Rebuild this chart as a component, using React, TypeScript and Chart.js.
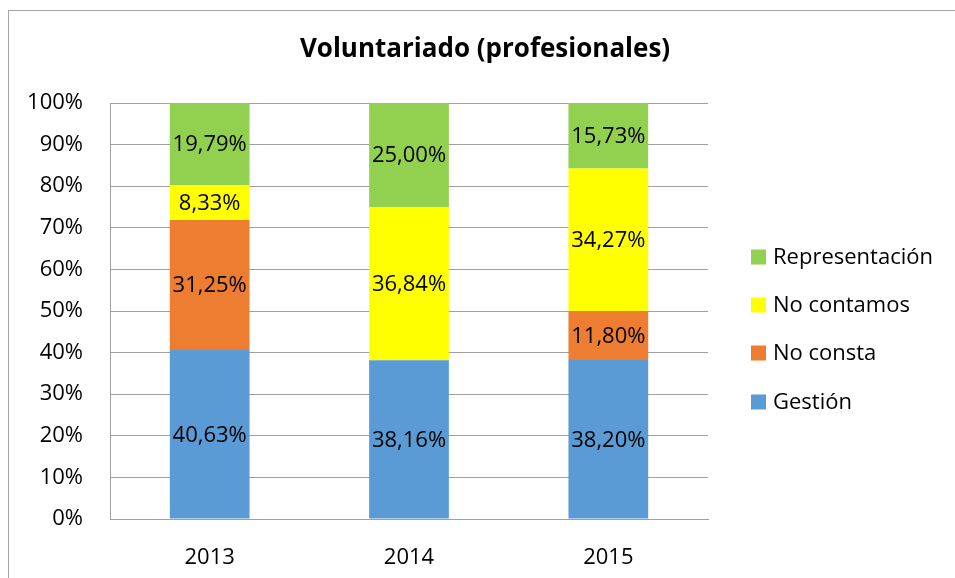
import React, { useEffect, useRef } from "react";
import { Chart, registerables } from "chart.js";

Chart.register(...registerables);

const categories = ["2013", "2014", "2015"];
const gestion = [40.63, 38.16, 38.2];
const noConsta = [31.25, 0, 11.8];
const noContamos = [8.33, 36.84, 34.27];
const representacion = [19.79, 25.0, 15.73];
const yTicks = [0, 10, 20, 30, 40, 50, 60, 70, 80, 90, 100];
const title = "Voluntariado (profesionales)";

const seriesNames = ["Gestión", "No consta", "No contamos", "Representación"];
const seriesColors = ["#5B9BD5", "#ED7D31", "#FFFF00", "#92D050"];

const FONT = "'Open Sans', 'Noto Sans', sans-serif";
const W = 962;
const H = 580;

const fmt = (v: number) => v.toFixed(2).replace(".", ",") + "%";

export default function App() {
  const ref = useRef<HTMLCanvasElement | null>(null);
  useEffect(() => {
    if (!ref.current) return;
    const seriesData = [gestion, noConsta, noContamos, representacion];
    const overlay = {
      id: "overlay",
      afterDatasetsDraw(chart: any) {
        const ctx = chart.ctx;
        ctx.save();
        ctx.fillStyle = "#000";
        ctx.textAlign = "center";
        ctx.textBaseline = "middle";
        ctx.font = `22px ${FONT}`;
        chart.data.datasets.forEach((ds: any, i: number) => {
          const meta = chart.getDatasetMeta(i);
          meta.data.forEach((el: any, j: number) => {
            const v = ds.data[j];
            if (!v) return;
            ctx.fillText(fmt(v), el.x, (el.y + el.base) / 2 + 1);
          });
        });
        // title
        ctx.font = `bold 26px ${FONT}`;
        ctx.fillText(title, 476, 39);
        // legend (reversed order)
        ctx.textAlign = "left";
        ctx.font = `22px ${FONT}`;
        const ys = [246, 294, 342, 391];
        for (let k = 0; k < 4; k++) {
          const idx = 3 - k;
          ctx.fillStyle = seriesColors[idx];
          ctx.fillRect(742, ys[k] - 7.5, 15, 15);
          ctx.fillStyle = "#000";
          ctx.fillText(seriesNames[idx], 764, ys[k] + 1);
        }
        ctx.restore();
      },
    };
    const chart = new Chart(ref.current, {
      type: "bar",
      data: {
        labels: categories,
        datasets: seriesData.map((d, i) => ({
          label: seriesNames[i],
          data: d,
          backgroundColor: seriesColors[i],
          borderWidth: 0,
          categoryPercentage: 1,
          barPercentage: 0.4,
        })),
      },
      options: {
        animation: false,
        responsive: false,
        devicePixelRatio: 1,
        layout: { padding: { left: 0, top: 92, right: W - 699, bottom: H - 508 - 60 } },
        plugins: { legend: { display: false }, title: { display: false }, tooltip: { enabled: false } },
        scales: {
          x: {
            stacked: true,
            grid: { display: false },
            border: { display: true, color: "#a0a0a0", width: 1 },
            ticks: { color: "#000", font: { family: FONT, size: 22 }, padding: 18 },
            afterFit(s: any) { s.height = 60; },
          },
          y: {
            stacked: true,
            min: 0,
            max: 100,
            afterBuildTicks(s: any) { s.ticks = yTicks.map((v) => ({ value: v })); },
            grid: { color: "#a0a0a0", drawTicks: false, lineWidth: 1 },
            border: { display: true, color: "#a0a0a0", width: 1 },
            ticks: {
              color: "#000",
              font: { family: FONT, size: 22 },
              padding: 27,
              callback: (v: any) => v + "%",
            },
            afterFit(s: any) { s.width = 101; },
          },
        },
      },
      plugins: [overlay],
    });
    return () => chart.destroy();
  }, []);
  return (
    <div
      style={{
        position: "absolute",
        left: 8,
        top: 10,
        width: W,
        height: H,
        border: "1px solid #a6a6a6",
        background: "#fff",
      }}
    >
      <canvas ref={ref} width={W} height={H} style={{ display: "block", width: W, height: H }} />
    </div>
  );
}
